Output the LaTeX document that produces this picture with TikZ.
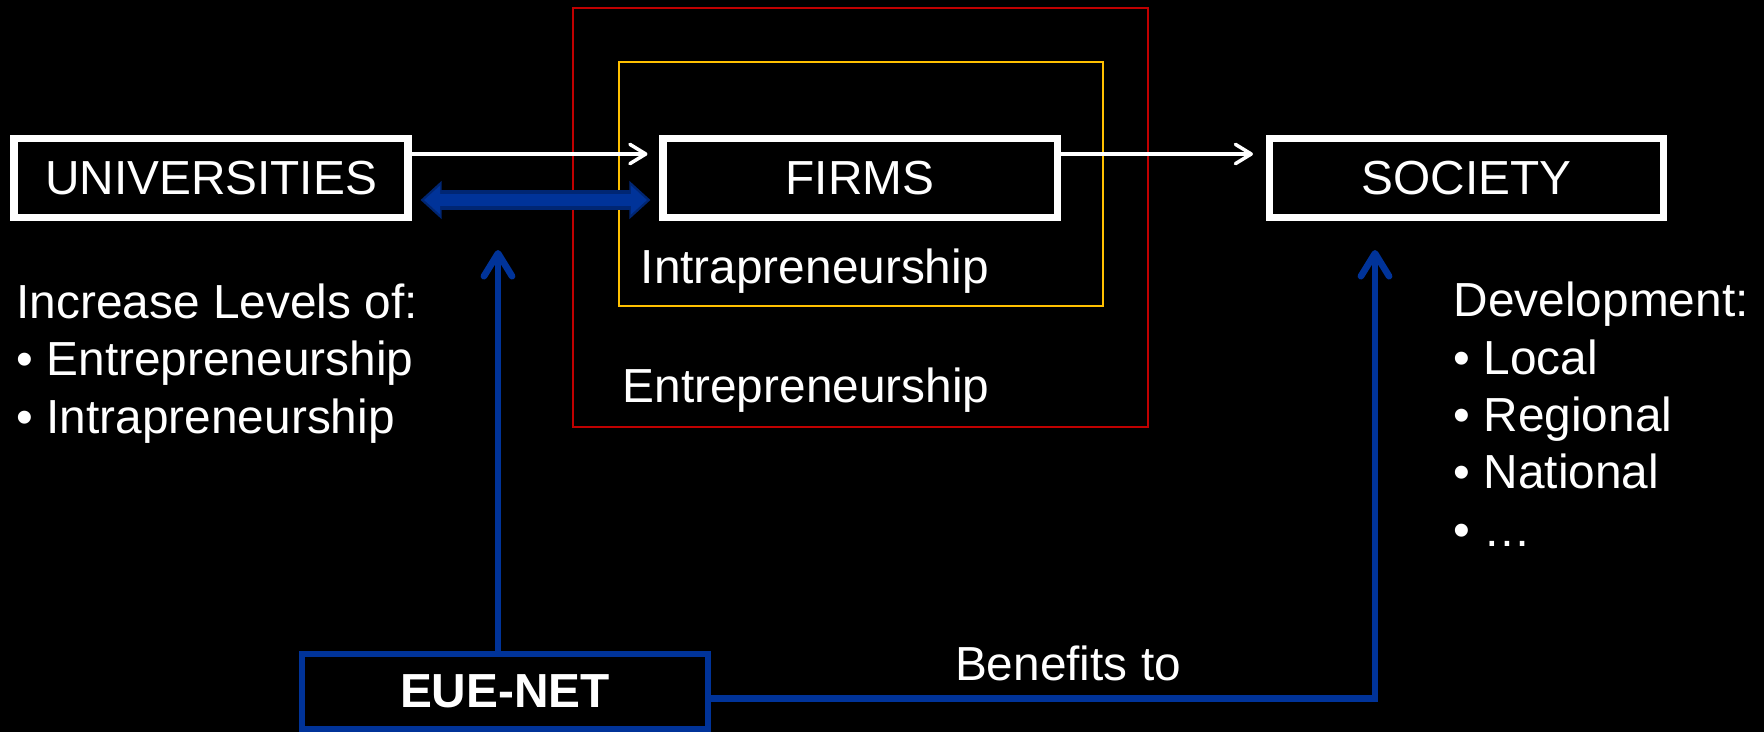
\documentclass[tikz,border=0pt]{standalone}
\usepackage{fontspec}
\setmainfont{Liberation Sans}
\usetikzlibrary{arrows.meta}
\definecolor{euered}{HTML}{C00000}
\definecolor{eueyellow}{HTML}{FFC000}
\definecolor{eueblue}{HTML}{003399}
\definecolor{euedark}{HTML}{002673}

\begin{document}
\begin{tikzpicture}[
    >={Straight Barb[length=4.5pt,width=5.5pt,round]},
    every node/.style={text=white, font=\fontsize{13.6}{16.3}\selectfont},
    entity/.style={rectangle, draw=white, line width=2pt, minimum width=3.94cm, minimum height=0.79cm, inner sep=0pt},
    hub/.style={rectangle, draw=eueblue, line width=1.7pt, minimum width=4.06cm, minimum height=0.75cm, inner sep=0pt, font=\fontsize{13.6}{16.3}\selectfont\bfseries},
    flow/.style={draw=white, line width=1pt, ->},
    feed/.style={draw=eueblue, line width=1.9pt, -{Straight Barb[length=6.5pt,width=8pt,round]}},
    linkedge/.style={draw=euedark, line width=5.7pt, {Triangle[length=6pt,width=10.5pt]}-{Triangle[length=6pt,width=10.5pt]}},
    linkcore/.style={draw=eueblue, line width=3.4pt, {Triangle[length=4.6pt,width=8pt]}-{Triangle[length=4.6pt,width=8pt]}},
    zone/.style={line width=0.6pt},
    txt/.style={anchor=base west, inner sep=0pt}
]
\fill[black] (0,0) rectangle (17.64,7.32);
\useasboundingbox (0,0) rectangle (17.64,7.32);

% nested areas around the firms
\draw[zone, euered] (5.73,7.24) rectangle (11.48,3.05);
\draw[zone, eueyellow] (6.19,6.70) rectangle (11.03,4.26);
\node[txt] (intra) at (6.40,4.49) {Intrapreneurship};
\node[txt] (entre) at (6.22,3.30) {Entrepreneurship};

\node[entity] (univ) at (2.11,5.54) {UNIVERSITIES};
\node[entity] (firms) at (8.60,5.54) {FIRMS};
\node[entity] (soc) at (14.665,5.54) {SOCIETY};
\node[hub] (eue) at (5.05,0.405) {EUE-NET};

\draw[flow, shorten >=0.12cm] ([yshift=0.24cm]univ.east) -- ([yshift=0.24cm]firms.west);
\draw[flow, shorten >=0.13cm] ([yshift=0.24cm]firms.east) -- ([yshift=0.24cm]soc.west);
\draw[linkedge, shorten <=0.09cm, shorten >=0.09cm] ([yshift=-0.22cm]univ.east) -- ([yshift=-0.22cm]firms.west);
\draw[linkcore, shorten <=0.125cm, shorten >=0.125cm] ([yshift=-0.22cm]univ.east) -- ([yshift=-0.22cm]firms.west);

% EUE-NET feeds
\coordinate (univup) at (4.98,4.82);
\coordinate (socup) at (13.75,4.82);
\draw[feed] (eue.north -| univup) -- (univup);
\draw[feed] ([yshift=-0.07cm]eue.east) -| (socup);
\node[anchor=base] (benefit) at (10.68,0.52) {Benefits to};

% side lists
\node[txt, align=left] (levels) at (0.16,2.99) {Increase Levels of:\\\textbullet{} Entrepreneurship\\\textbullet{} Intrapreneurship};
\node[txt, align=left] (devel) at (14.53,1.86) {Development:\\\textbullet{} Local\\\textbullet{} Regional\\\textbullet{} National\\\textbullet{} …};
\end{tikzpicture}
\end{document}
